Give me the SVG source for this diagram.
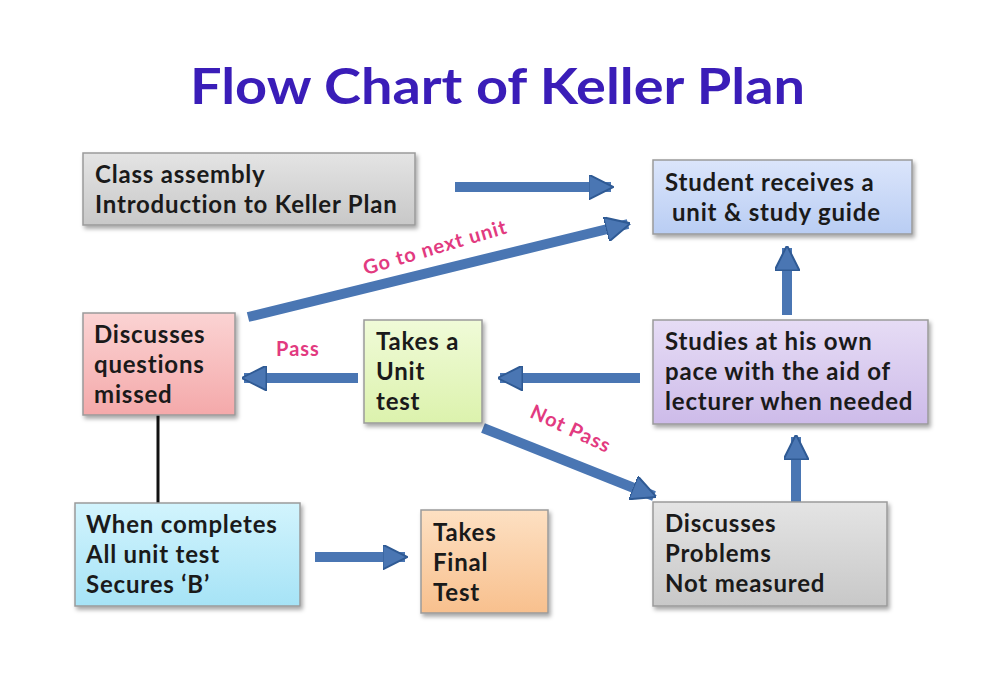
<svg xmlns="http://www.w3.org/2000/svg" width="996" height="688" viewBox="0 0 996 688">
<defs>
<linearGradient id="gGray" x1="0" y1="0" x2="0" y2="1"><stop offset="0" stop-color="#e4e4e4"/><stop offset="1" stop-color="#c8c8c8"/></linearGradient>
<linearGradient id="gBlue" x1="0" y1="0" x2="0" y2="1"><stop offset="0" stop-color="#dbe5fb"/><stop offset="1" stop-color="#b9cdf3"/></linearGradient>
<linearGradient id="gPink" x1="0" y1="0" x2="0" y2="1"><stop offset="0" stop-color="#fbd3d3"/><stop offset="1" stop-color="#f4a9aa"/></linearGradient>
<linearGradient id="gGreen" x1="0" y1="0" x2="0" y2="1"><stop offset="0" stop-color="#f0fbd8"/><stop offset="1" stop-color="#dcf2ad"/></linearGradient>
<linearGradient id="gPurple" x1="0" y1="0" x2="0" y2="1"><stop offset="0" stop-color="#e6dcf5"/><stop offset="1" stop-color="#cdbbe9"/></linearGradient>
<linearGradient id="gCyan" x1="0" y1="0" x2="0" y2="1"><stop offset="0" stop-color="#d2f4fd"/><stop offset="1" stop-color="#a6e3f6"/></linearGradient>
<linearGradient id="gPeach" x1="0" y1="0" x2="0" y2="1"><stop offset="0" stop-color="#fde0c2"/><stop offset="1" stop-color="#f8c08e"/></linearGradient>
<filter id="sh" x="-10%" y="-10%" width="125%" height="130%"><feDropShadow dx="2" dy="3" stdDeviation="2" flood-color="#000" flood-opacity="0.35"/></filter>
<marker id="ah" viewBox="0 0 10 10" refX="9" refY="5" markerWidth="2.5" markerHeight="2.5" orient="auto" markerUnits="strokeWidth"><path d="M0,0 L10,5 L0,10 Z" fill="#4a76b3" stroke="#2f5a94" stroke-width="0.8"/></marker>
</defs>
<style>
.box{stroke:#9a9a9a;stroke-width:1.5;filter:url(#sh)}
.t{font-family:Lato,"Open Sans","Liberation Sans",sans-serif;font-weight:bold;font-size:24px;letter-spacing:0.8px;fill:#1a1a1a}
.lbl{font-family:Lato,"Open Sans","Liberation Sans",sans-serif;font-weight:bold;font-size:20px;letter-spacing:1px;fill:#e23a80}
.arr{stroke:#4a76b3;stroke-width:10;fill:none;marker-end:url(#ah)}
</style>
<rect width="996" height="688" fill="#ffffff"/>
<text x="190" y="104" textLength="615" lengthAdjust="spacingAndGlyphs" font-family="Lato,'Open Sans','Liberation Sans',sans-serif" font-weight="bold" font-size="50" fill="#3a1db8">Flow Chart of Keller Plan</text>

<g id="connectors">
<path class="arr" d="M455,187 L611,187"/>
<path class="arr" d="M248,317 L628,224"/>
<path class="arr" d="M358,378 L244,378"/>
<path class="arr" d="M640,378 L500,378"/>
<path class="arr" d="M787,315 L787,248"/>
<path class="arr" d="M796,503 L796,437"/>
<path class="arr" d="M483,428 L654,496"/>
<path class="arr" d="M315,557 L405,557"/>
<path d="M158,415 L158,508" stroke="#111" stroke-width="3"/>
<text class="lbl" transform="translate(437,254) rotate(-16.5)" text-anchor="middle">Go to next unit</text>
<text class="lbl" x="298" y="356" text-anchor="middle">Pass</text>
<text class="lbl" transform="translate(568,435) rotate(25)" text-anchor="middle">Not Pass</text>
</g>

<g id="n1"><rect class="box" x="83" y="153" width="332" height="72" fill="url(#gGray)"/>
<text class="t" x="95" y="183">Class assembly</text><text class="t" x="95" y="213">Introduction to Keller Plan</text></g>

<g id="n2"><rect class="box" x="653" y="160" width="259" height="74" fill="url(#gBlue)"/>
<text class="t" x="665" y="191">Student receives a</text><text class="t" x="672" y="221">unit &amp; study guide</text></g>

<g id="n3"><rect class="box" x="83" y="313" width="152" height="102" fill="url(#gPink)"/>
<text class="t" x="94" y="343">Discusses</text><text class="t" x="94" y="373">questions</text><text class="t" x="94" y="403">missed</text></g>

<g id="n4"><rect class="box" x="364" y="320" width="118" height="103" fill="url(#gGreen)"/>
<text class="t" x="376" y="350">Takes a</text><text class="t" x="376" y="380">Unit</text><text class="t" x="376" y="410">test</text></g>

<g id="n5"><rect class="box" x="653" y="320" width="275" height="104" fill="url(#gPurple)"/>
<text class="t" x="665" y="350">Studies at his own</text><text class="t" x="665" y="380">pace with the aid of</text><text class="t" x="665" y="410">lecturer when needed</text></g>

<g id="n6"><rect class="box" x="75" y="503" width="225" height="103" fill="url(#gCyan)"/>
<text class="t" x="86" y="533">When completes</text><text class="t" x="86" y="563">All unit test</text><text class="t" x="86" y="593">Secures ‘B’</text></g>

<g id="n7"><rect class="box" x="421" y="510" width="127" height="103" fill="url(#gPeach)"/>
<text class="t" x="433" y="541">Takes</text><text class="t" x="433" y="571">Final</text><text class="t" x="433" y="601">Test</text></g>

<g id="n8"><rect class="box" x="653" y="502" width="234" height="104" fill="url(#gGray)"/>
<text class="t" x="665" y="532">Discusses</text><text class="t" x="665" y="562">Problems</text><text class="t" x="665" y="592">Not measured</text></g>
</svg>
